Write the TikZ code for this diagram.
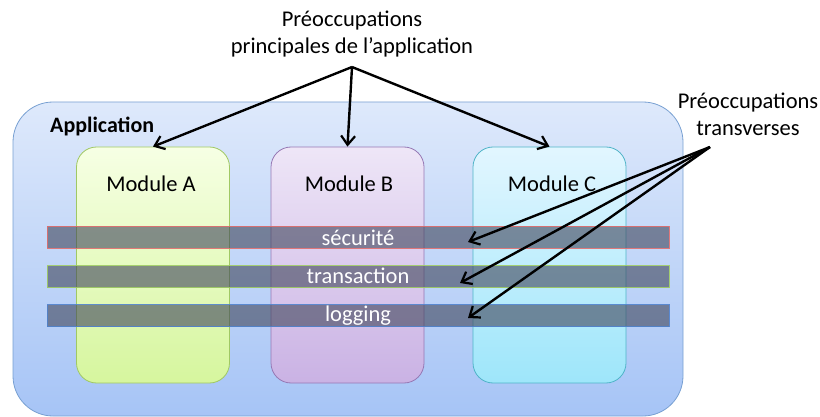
\documentclass[tikz,border=0pt]{standalone}
\usepackage{fontspec}
\setmainfont{Carlito}
\usetikzlibrary{arrows.meta,calc}
\definecolor{appTop}{RGB}{222,233,251}
\definecolor{appBot}{RGB}{166,196,246}
\definecolor{appBorder}{RGB}{120,160,210}
\definecolor{aTop}{RGB}{246,255,228}
\definecolor{aBot}{RGB}{214,246,158}
\definecolor{aBorder}{RGB}{160,200,100}
\definecolor{bTop}{RGB}{238,230,247}
\definecolor{bBot}{RGB}{202,178,228}
\definecolor{bBorder}{RGB}{150,120,180}
\definecolor{cTop}{RGB}{226,246,255}
\definecolor{cBot}{RGB}{158,230,250}
\definecolor{cBorder}{RGB}{80,180,200}
\definecolor{barFill}{RGB}{62,68,90}
\definecolor{barRed}{RGB}{225,110,110}
\definecolor{barGreen}{RGB}{160,205,100}
\definecolor{barBlue}{RGB}{80,130,205}
\tikzset{
  x=1pt,y=1pt,
  txt/.style={font=\fontsize{22.5}{27}\selectfont, inner sep=0pt, align=center},
  appbox/.style={draw=appBorder, line width=0.8pt, rounded corners=40pt, top color=appTop, bottom color=appBot, minimum width=670pt, minimum height=314pt, inner sep=0pt},
  modbox/.style={line width=0.8pt, rounded corners=20pt, minimum width=153pt, minimum height=236pt, inner sep=0pt},
  barbox/.style={fill=barFill, fill opacity=0.6, draw opacity=0.9, line width=0.7pt, minimum width=622pt, minimum height=22pt, inner sep=0pt},
  bartxt/.style={txt, text=white},
  arr/.style={-{Straight Barb[length=9pt,width=14pt,line width=2.2pt]}, line width=2.4pt, black},
}
\begin{document}
\begin{tikzpicture}
\useasboundingbox (0,0) rectangle (820,-417);
\node[appbox] (app) at (348,-259) {};
\node[txt, font=\fontsize{22}{26}\selectfont\bfseries, anchor=west] (applbl) at (50,-126) {Application};
\node[modbox, draw=aBorder, top color=aTop, bottom color=aBot] (A) at (153,-265) {};
\node[modbox, draw=bBorder, top color=bTop, bottom color=bBot] (B) at (347.5,-265) {};
\node[modbox, draw=cBorder, top color=cTop, bottom color=cBot] (C) at (549.5,-265) {};
\node[txt] (Alab) at (151,-184) {Module A};
\node[txt] (Blab) at (349,-184) {Module B};
\node[txt] (Clab) at (552,-184) {Module C};
\node[barbox, draw=barRed] (s1) at (358,-237) {};
\node[barbox, draw=barGreen] (s2) at (358,-276.5) {};
\node[barbox, draw=barBlue] (s3) at (358,-315.5) {};
\node[bartxt] (t1) at (358,-238) {sécurité};
\node[bartxt] (t2) at (358,-276) {transaction};
\node[bartxt] (t3) at (358,-316) {logging};
\node[txt] (top) at (352,-34) {Préoccupations\\principales de l’application};
\node[txt] (right) at (748,-114) {Préoccupations\\transverses};
\coordinate (tp) at (352,-67);
\coordinate (rp) at (710,-147);
\coordinate (e1) at (468,-242);
\coordinate (e2) at (460,-283);
\coordinate (e3) at (468,-318);
\draw[arr] (tp) -- (A.north);
\draw[arr] (tp) -- (B.north);
\draw[arr] (tp) -- (C.north);
\draw[arr] (rp) -- (e1);
\draw[arr] (rp) -- (e2);
\draw[arr] (rp) -- (e3);
\end{tikzpicture}
\end{document}
